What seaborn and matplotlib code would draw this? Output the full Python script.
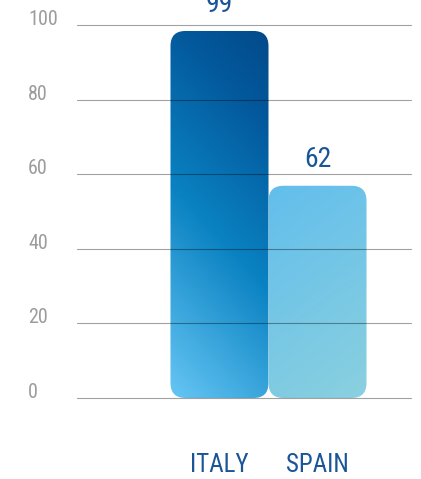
import numpy as np
import pandas as pd
import matplotlib
matplotlib.use("Agg")
import matplotlib.pyplot as plt
import seaborn as sns
from matplotlib.patches import FancyBboxPatch
from matplotlib.colors import LinearSegmentedColormap
from matplotlib import font_manager

# ---- data ----
countries = ["ITALY", "SPAIN"]
value_labels = ["99", "62"]
bar_heights = [98.4, 56.9]
yticks = [0, 20, 40, 60, 80, 100]

sns.set_theme(style="white")

# pick a condensed family if one is installed
names = {f.name for f in font_manager.fontManager.ttflist}
family = None
for cand in ["Liberation Sans Narrow", "Roboto Condensed", "Open Sans Condensed",
             "Noto Sans Condensed"]:
    if cand in names:
        family = cand
        break
if family is None:
    family = "Roboto"
plt.rcParams["font.family"] = [family, "DejaVu Sans"]

W, H = 421, 479
fig = plt.figure(figsize=(W / 100, H / 100), dpi=100)
fig.patch.set_facecolor("white")
ax = fig.add_axes([77 / W, 81 / H, 334 / W, 373 / H])

df = pd.DataFrame({"country": countries, "height": bar_heights})
sns.barplot(data=df, x="country", y="height", width=1.0, ax=ax,
            color="#0a82c2", errorbar=None)

xlim = (-1.454, 1.954)
ylim = (0, 100)
ax.set_xlim(*xlim)
ax.set_ylim(*ylim)

px_x = 334 / (xlim[1] - xlim[0])
px_y = 373 / (ylim[1] - ylim[0])
radius_px = 15
r = radius_px / px_x
aspect = px_x / px_y

grads = [
    (LinearSegmentedColormap.from_list("it", [(0, "#66c6f4"), (0.45, "#0a82c2"), (0.8, "#03599c"), (1, "#024a8a")]), (0.22, 0.78, False)),
    (LinearSegmentedColormap.from_list("es", [(0, "#62beec"), (1, "#8ad0df")]), (0.25, 0.75, True)),
]

bars = list(ax.patches)
for i, p in enumerate(bars):
    x0, w, h = p.get_x(), p.get_width(), p.get_height()
    p.remove()
    box = FancyBboxPatch((x0, 0), w, h,
                         boxstyle=f"round,pad=0,rounding_size={r}",
                         mutation_aspect=aspect,
                         facecolor="none", edgecolor="none", zorder=1)
    ax.add_patch(box)
    cmap, (cu, cv, flip) = grads[i]
    U, V = np.meshgrid(np.linspace(0, 1, 60), np.linspace(0, 1, 240))
    s = cu * U + cv * ((1 - V) if flip else V)
    ax.imshow(s, cmap=cmap, vmin=0, vmax=1, extent=(x0, x0 + w, 0, h),
              origin="lower", aspect="auto", interpolation="bilinear",
              clip_path=box, zorder=1)

ax.set_xlim(*xlim)
ax.set_ylim(*ylim)

# value labels
for i, (h, lab) in enumerate(zip(bar_heights, value_labels)):
    ax.annotate(lab, xy=(i, h), xytext=(0, 18.5 * 0.72), textcoords="offset points",
                ha="center", va="baseline", fontsize=20, color="#1a5598",
                annotation_clip=False)

# grid and axes
ax.set_yticks(yticks)
ax.yaxis.grid(True, color="black", alpha=0.37, lw=0.8)
ax.xaxis.grid(False)
ax.set_axisbelow(False)
for gl in ax.get_ygridlines():
    gl.set_clip_on(False)
for sp in ax.spines.values():
    sp.set_visible(False)
ax.set_xlabel("")
ax.set_ylabel("")
ax.tick_params(axis="y", length=0, pad=49 * 0.72, labelsize=14.5, labelcolor="#9c9c9c")
ax.tick_params(axis="x", length=0, pad=74 * 0.72, labelsize=18, labelcolor="#1a5598")
for lbl in ax.get_yticklabels():
    lbl.set_ha("left")
    lbl.set_va("baseline")
for lbl in ax.get_xticklabels():
    lbl.set_va("baseline")
ax.set_facecolor("white")

fig.savefig("out.png", dpi=100, facecolor="white")
